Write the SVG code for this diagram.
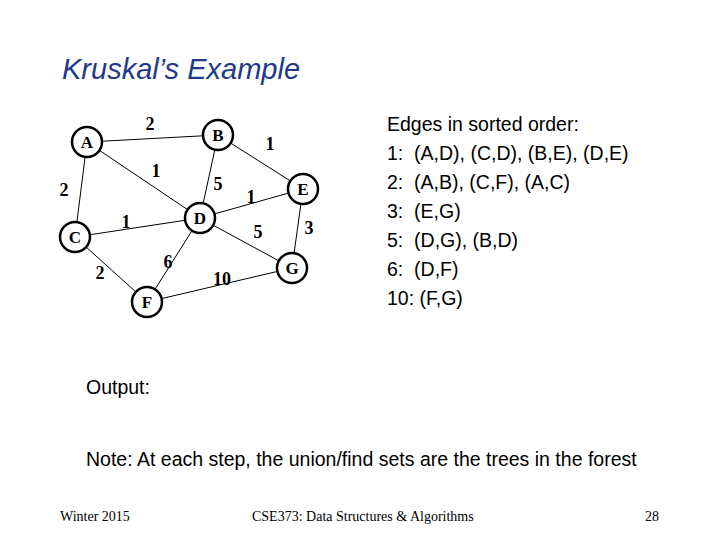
<svg xmlns="http://www.w3.org/2000/svg" width="720" height="540" viewBox="0 0 720 540">
<style>
.n{fill:#fff;stroke:#000;stroke-width:2.5}
.nl{font:bold 17px "Liberation Serif",serif;text-anchor:middle}
.w{font:bold 18px "Liberation Serif",serif;text-anchor:middle}
.e{stroke:#000;stroke-width:1}
.s{font:19.5px "Liberation Sans",sans-serif}
</style>
<rect width="720" height="540" fill="#fff"/>
<text x="62" y="79" style="font:italic 29px 'Liberation Sans',sans-serif;fill:#1f3a8a">Kruskal’s Example</text>
<g id="connectors">
<line class="e" x1="87" y1="142" x2="218" y2="135"/>
<line class="e" x1="87" y1="142" x2="200" y2="218"/>
<line class="e" x1="87" y1="142" x2="75" y2="237"/>
<line class="e" x1="218" y1="135" x2="303" y2="189"/>
<line class="e" x1="218" y1="135" x2="200" y2="218"/>
<line class="e" x1="200" y1="218" x2="303" y2="189"/>
<line class="e" x1="75" y1="237" x2="200" y2="218"/>
<line class="e" x1="200" y1="218" x2="292" y2="268"/>
<line class="e" x1="303" y1="189" x2="292" y2="268"/>
<line class="e" x1="75" y1="237" x2="147" y2="302"/>
<line class="e" x1="200" y1="218" x2="147" y2="302"/>
<line class="e" x1="147" y1="302" x2="292" y2="268"/>
<text class="w" x="150" y="130">2</text>
<text class="w" x="270" y="150">1</text>
<text class="w" x="156" y="177">1</text>
<text class="w" x="218" y="190">5</text>
<text class="w" x="64" y="196">2</text>
<text class="w" x="251" y="203">1</text>
<text class="w" x="309" y="234">3</text>
<text class="w" x="126" y="228">1</text>
<text class="w" x="258" y="238">5</text>
<text class="w" x="168" y="268">6</text>
<text class="w" x="100" y="279">2</text>
<text class="w" x="222" y="285">10</text>
</g>
<g id="A"><circle class="n" cx="87" cy="142" r="15"/><text class="nl" x="87" y="148">A</text></g>
<g id="B"><circle class="n" cx="218" cy="135" r="15"/><text class="nl" x="218" y="141">B</text></g>
<g id="E"><circle class="n" cx="303" cy="189" r="15"/><text class="nl" x="303" y="195">E</text></g>
<g id="D"><circle class="n" cx="200" cy="218" r="15"/><text class="nl" x="200" y="224">D</text></g>
<g id="C"><circle class="n" cx="75" cy="237" r="15"/><text class="nl" x="75" y="243">C</text></g>
<g id="G"><circle class="n" cx="292" cy="268" r="15"/><text class="nl" x="292" y="274">G</text></g>
<g id="F"><circle class="n" cx="147" cy="302" r="15"/><text class="nl" x="147" y="308">F</text></g>
<g class="s">
<text x="387" y="131">Edges in sorted order:</text>
<text x="387" y="160" xml:space="preserve">1:  (A,D), (C,D), (B,E), (D,E)</text>
<text x="387" y="189" xml:space="preserve">2:  (A,B), (C,F), (A,C)</text>
<text x="387" y="218" xml:space="preserve">3:  (E,G)</text>
<text x="387" y="247" xml:space="preserve">5:  (D,G), (B,D)</text>
<text x="387" y="276" xml:space="preserve">6:  (D,F)</text>
<text x="387" y="305">10: (F,G)</text>
<text x="86" y="394">Output:</text>
<text x="86" y="466">Note: At each step, the union/find sets are the trees in the forest</text>
</g>
<g style="font:14px 'Liberation Serif',serif">
<text x="60" y="521">Winter 2015</text>
<text x="252" y="521">CSE373: Data Structures &amp; Algorithms</text>
<text x="645" y="521">28</text>
</g>
</svg>
